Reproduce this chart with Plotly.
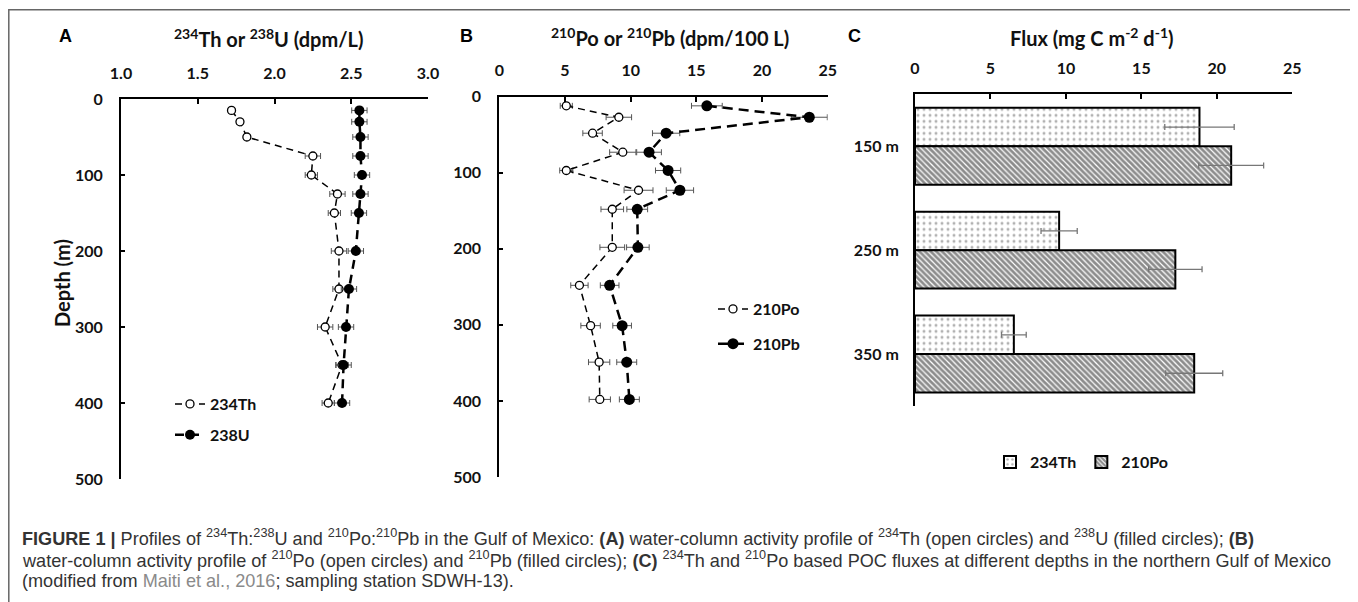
import plotly.graph_objects as go

# ---------------- Panel A data ----------------
depth_th = [15, 30, 50, 75, 100, 125, 150, 200, 250, 300, 350, 400]
th234 = [1.72, 1.775, 1.82, 2.25, 2.24, 2.41, 2.39, 2.42, 2.42, 2.33, 2.44, 2.35]
th234_err = [0.02, 0.02, 0.02, 0.05, 0.04, 0.05, 0.04, 0.05, 0.04, 0.05, 0.04, 0.04]
depth_u = [15, 30, 50, 75, 100, 125, 150, 200, 250, 300, 350, 400]
u238 = [2.553, 2.553, 2.56, 2.56, 2.57, 2.56, 2.55, 2.53, 2.485, 2.466, 2.45, 2.44]
u238_err = [0.05, 0.05, 0.05, 0.05, 0.05, 0.05, 0.05, 0.05, 0.05, 0.05, 0.05, 0.05]

# ---------------- Panel B data ----------------
depth_b = [12, 27, 48, 73, 97, 123, 148, 198, 248, 301, 349, 398]
po210 = [5.1, 9.1, 7.1, 9.4, 5.1, 10.6, 8.6, 8.6, 6.1, 6.95, 7.6, 7.65]
po210_err = [0.46, 0.97, 0.74, 1.0, 0.5, 1.1, 0.86, 0.94, 0.66, 0.74, 0.81, 0.81]
pb210 = [15.8, 23.6, 12.7, 11.4, 12.85, 13.75, 10.5, 10.55, 8.4, 9.35, 9.7, 9.9]
pb210_err = [1.17, 1.37, 1.04, 0.94, 0.96, 1.04, 0.79, 0.86, 0.71, 0.71, 0.76, 0.76]

# ---------------- Panel C data ----------------
flux_depths = ["150 m", "250 m", "350 m"]
flux_th = [18.85, 9.55, 6.55]
flux_th_err = [2.3, 1.2, 0.82]
flux_po = [20.95, 17.25, 18.5]
flux_po_err = [2.15, 1.77, 1.89]

# ---------------- tick labels ----------------
a_xticks = [1.0, 1.5, 2.0, 2.5, 3.0]
depth_ticks = [0, 100, 200, 300, 400, 500]
bc_xticks = [0, 5, 10, 15, 20, 25]

# the page body has an 8 px margin, so the figure is 8 px smaller and
# reference pixel positions are shifted by 8 px
OFF = 8
W, H = 1358 - OFF, 602 - OFF
FONT = "Lato, 'Open Sans', sans-serif"


def px(x):
    return (x - OFF) / W


def py(y):
    return 1 - (y - OFF) / H


fig = go.Figure()

err_style = dict(type="data", thickness=1, width=3, color="#555")

# Panel A
fig.add_trace(go.Scatter(
    x=th234, y=depth_th, xaxis="x", yaxis="y", name="234Th", legend="legend",
    mode="lines+markers",
    line=dict(color="black", width=1.5, dash="7px,5px"),
    marker=dict(symbol="circle", size=8, color="white", line=dict(color="black", width=1.3)),
    error_x=dict(array=th234_err, **err_style), legendgroup="a1"))
fig.add_trace(go.Scatter(
    x=u238, y=depth_u, xaxis="x", yaxis="y", name="238U", legend="legend",
    mode="lines+markers",
    line=dict(color="black", width=2.5, dash="9px,6px"),
    marker=dict(symbol="circle", size=10, color="black"),
    error_x=dict(array=u238_err, **err_style), legendgroup="a2"))

# Panel B
fig.add_trace(go.Scatter(
    x=po210, y=depth_b, xaxis="x2", yaxis="y2", name="210Po", legend="legend2",
    mode="lines+markers",
    line=dict(color="black", width=1.5, dash="7px,5px"),
    marker=dict(symbol="circle", size=8, color="white", line=dict(color="black", width=1.3)),
    error_x=dict(array=po210_err, **err_style), legendgroup="b1"))
fig.add_trace(go.Scatter(
    x=pb210, y=depth_b, xaxis="x2", yaxis="y2", name="210Pb", legend="legend2",
    mode="lines+markers",
    line=dict(color="black", width=2.5, dash="10px,6px"),
    marker=dict(symbol="circle", size=11, color="black"),
    error_x=dict(array=pb210_err, **err_style), legendgroup="b2"))

# Panel C
fig.add_trace(go.Bar(
    x=flux_th, y=flux_depths, orientation="h", xaxis="x3", yaxis="y3",
    name="234Th", legend="legend3",
    marker=dict(color="white", line=dict(color="black", width=2),
                pattern=dict(shape=".", size=6, solidity=0.2, fgcolor="#666", bgcolor="white")),
    error_x=dict(type="data", array=flux_th_err, thickness=1.3, width=3, color="#777")))
fig.add_trace(go.Bar(
    x=flux_po, y=flux_depths, orientation="h", xaxis="x3", yaxis="y3",
    name="210Po", legend="legend3",
    marker=dict(color="white", line=dict(color="black", width=2),
                pattern=dict(shape="\\", size=4, solidity=0.7, fgcolor="#1a1a1a", bgcolor="white")),
    error_x=dict(type="data", array=flux_po_err, thickness=1.3, width=3, color="#777")))

tickfont = dict(family=FONT, size=16, color="#111", weight="bold")
common_x = dict(side="top", showline=True, linecolor="black", linewidth=2, ticks="inside",
                ticklen=5, tickwidth=2, tickcolor="black", showgrid=False, zeroline=False,
                tickfont=tickfont, ticklabelstandoff=12, mirror=False, automargin=False)
common_y = dict(showline=True, linecolor="black", linewidth=2, showgrid=False, zeroline=False,
                tickfont=tickfont, automargin=False)

fig.update_layout(
    width=W, height=H,
    margin=dict(l=0, r=0, t=0, b=0, autoexpand=False),
    paper_bgcolor="white", plot_bgcolor="rgba(0,0,0,0)",
    font=dict(family=FONT, color="#111"),
    barmode="group", bargap=0.26, bargroupgap=0,
    xaxis=dict(domain=[px(121), px(428)], anchor="y", range=[1, 3],
               tickvals=a_xticks, tickformat=".1f", **common_x),
    yaxis=dict(domain=[py(479), py(99)], anchor="x", range=[500, 0],
               tickvals=depth_ticks, ticks="inside", ticklen=4, tickwidth=2, tickcolor="black",
               ticklabelstandoff=13, **common_y),
    xaxis2=dict(domain=[px(499.3), px(827.7)], anchor="y2", range=[0, 25],
                tickvals=bc_xticks, **common_x),
    yaxis2=dict(domain=[py(477), py(96.7)], anchor="x2", range=[500, 0],
                tickvals=depth_ticks, ticks="inside", ticklen=4, tickwidth=2, tickcolor="black",
                ticklabelstandoff=13, **common_y),
    xaxis3=dict(domain=[px(915), px(1292.3)], anchor="y3", range=[0, 25],
                tickvals=bc_xticks, **common_x),
    yaxis3=dict(domain=[py(406), py(94.3)], anchor="x3", range=[2.5, -0.5],
                type="category", ticks="", ticklabelstandoff=11, **common_y),
    legend=dict(x=px(170), y=py(387), xanchor="left", yanchor="top", bgcolor="rgba(0,0,0,0)",
                font=dict(family=FONT, size=16, color="#111", weight="bold"),
                tracegroupgap=7, itemwidth=30, traceorder="grouped"),
    legend2=dict(x=px(713), y=py(292), xanchor="left", yanchor="top", bgcolor="rgba(0,0,0,0)",
                 font=dict(family=FONT, size=16, color="#111", weight="bold"),
                 tracegroupgap=11, itemwidth=30, traceorder="grouped"),
    legend3=dict(x=px(990), y=py(462), xanchor="left", yanchor="middle", orientation="h",
                 bgcolor="rgba(0,0,0,0)", itemwidth=30,
                 font=dict(family=FONT, size=16, color="#111", weight="bold")),
)

ann = []
# Panel letters
for letter, xx in [("A", 65), ("B", 466), ("C", 854)]:
    ann.append(dict(text=f"<b>{letter}</b>", x=px(xx), y=py(36), xref="paper", yref="paper",
                    showarrow=False, xanchor="center", yanchor="middle",
                    font=dict(family="Liberation Sans, Arial", size=18, color="black")))
# Axis titles
titles = [("<b><sup>234</sup>Th or <sup>238</sup>U (dpm/L)</b>", 268, 38),
          ("<b><sup>210</sup>Po or <sup>210</sup>Pb (dpm/100 L)</b>", 670, 37),
          ("<b>Flux (mg C m<sup>-2</sup> d<sup>-1</sup>)</b>", 1092, 37)]
for t, xx, yy in titles:
    ann.append(dict(text=t, x=px(xx), y=py(yy), xref="paper", yref="paper", showarrow=False,
                    xanchor="center", yanchor="middle",
                    font=dict(family=FONT, size=20, color="#111")))
ann.append(dict(text="<b>Depth (m)</b>", x=px(62), y=py(283), xref="paper", yref="paper",
                showarrow=False, textangle=-90, xanchor="center", yanchor="middle",
                font=dict(family=FONT, size=20, color="#111")))

# Caption
CAP = "Liberation Sans, Arial, sans-serif"
cap_lines = [
    "<b>FIGURE 1 |</b> Profiles of <sup>234</sup>Th:<sup>238</sup>U and <sup>210</sup>Po:<sup>210</sup>Pb "
    "in the Gulf of Mexico: <b>(A)</b> water-column activity profile of <sup>234</sup>Th (open circles) "
    "and <sup>238</sup>U (filled circles); <b>(B)</b>",
    "water-column activity profile of <sup>210</sup>Po (open circles) and <sup>210</sup>Pb (filled circles); "
    "<b>(C)</b> <sup>234</sup>Th and <sup>210</sup>Po based POC fluxes at different depths in the northern Gulf of Mexico",
    "(modified from <span style='color:#8a8a8a'>Maiti et al., 2016</span>; sampling station SDWH-13).",
]
for line, yy in zip(cap_lines, [537, 559, 581]):
    ann.append(dict(text=line, x=px(20), y=py(yy), xref="paper", yref="paper", showarrow=False,
                    xanchor="left", yanchor="middle", align="left",
                    font=dict(family=CAP, size=18.1, color="#333")))
fig.update_layout(annotations=ann)

# Frame around figure
fig.add_shape(type="rect", xref="paper", yref="paper", x0=px(8.8), x1=px(1352), y0=-0.02, y1=py(9.8),
              line=dict(color="#666", width=1.5), fillcolor="rgba(0,0,0,0)", layer="below")

fig.write_html("out.html")
